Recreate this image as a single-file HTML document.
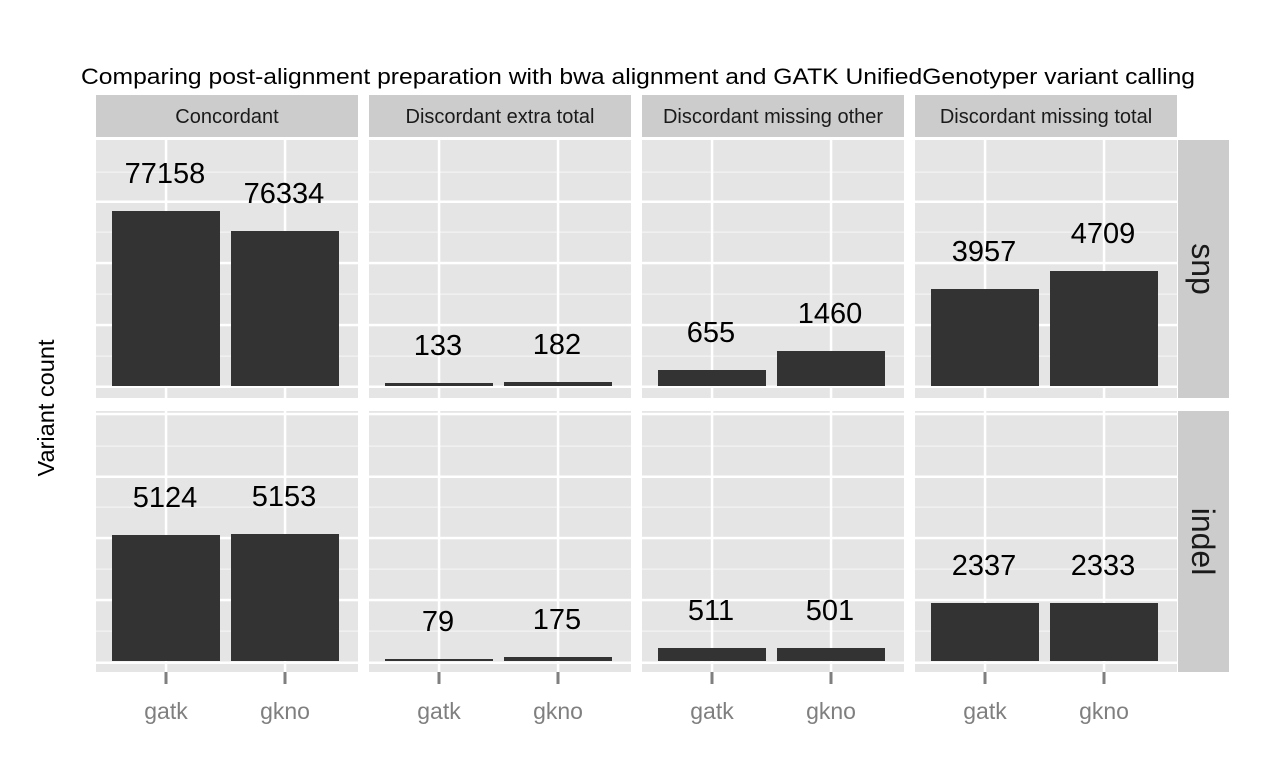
<!DOCTYPE html>
<html><head><meta charset="utf-8"><style>body{margin:0;background:#fff}svg{display:block}</style></head><body>
<svg width="1280" height="768" xmlns="http://www.w3.org/2000/svg" font-family="Liberation Sans, sans-serif">
<rect width="1280" height="768" fill="#fff"/>
<text x="638" y="84" font-size="22" text-anchor="middle" textLength="1114" lengthAdjust="spacingAndGlyphs">Comparing post-alignment preparation with bwa alignment and GATK UnifiedGenotyper variant calling</text>
<text transform="translate(54,408) rotate(-90)" font-size="23" text-anchor="middle" textLength="137" lengthAdjust="spacingAndGlyphs">Variant count</text>
<script>
const s=document.querySelector('svg');const NS='http://www.w3.org/2000/svg';
function el(t,a,txt){const e=document.createElementNS(NS,t);for(const k in a)e.setAttribute(k,a[k]);if(txt!==undefined)e.textContent=txt;s.appendChild(e);return e;}
const xs=[96,369,642,915],W=262;
const strips=["Concordant","Discordant extra total","Discordant missing other","Discordant missing total"];
const rows=[{y0:140,y1:398,major:[201.7,263,325,386.7],minor:[172,232,294,356],base:386},
            {y0:411,y1:672,major:[414,476.7,538,600,662.7],minor:[446,507,569,631],base:661}];
const data=[
 [[77158,211],[76334,231]],[[133,383],[182,382]],[[655,370],[1460,351]],[[3957,289],[4709,271]],
 [[5124,535],[5153,534]],[[79,659],[175,657]],[[511,648],[501,648]],[[2337,603],[2333,603]]];
xs.forEach((x,i)=>{
 el('rect',{x:x,y:95,width:W,height:42,fill:'#cccccc'});
 el('text',{x:x+W/2,y:123,'font-size':20,'text-anchor':'middle',fill:'#1a1a1a'},strips[i]);
 rows.forEach((r,j)=>{
  el('rect',{x:x,y:r.y0,width:W,height:r.y1-r.y0,fill:'#e5e5e5'});
  r.minor.forEach(y=>el('rect',{x:x,y:y-0.5,width:W,height:1.3,fill:'#f2f2f2'}));
  r.major.forEach(y=>el('rect',{x:x,y:y-1.2,width:W,height:2.5,fill:'#fff'}));
  [x+70,x+189].forEach(cx=>el('rect',{x:cx-1.2,y:r.y0,width:2.5,height:r.y1-r.y0,fill:'#fff'}));
  data[j*4+i].forEach((d,k)=>{
   const cx=x+70+k*119;
   el('rect',{x:cx-54,y:d[1],width:108,height:r.base-d[1],fill:'#333333'});
   el('text',{x:cx-1,y:d[1]-28,'font-size':29,'text-anchor':'middle',fill:'#000'},String(d[0]));
  });
 });
 ['gatk','gkno'].forEach((l,k)=>{const cx=x+70+k*119;
  el('rect',{x:cx-1.5,y:672,width:3,height:12,fill:'#7f7f7f'});
  el('text',{x:cx,y:719,'font-size':23,'text-anchor':'middle',fill:'#7f7f7f'},l);});
});
[['snp',140,398],['indel',411,672]].forEach(a=>{
 el('rect',{x:1178,y:a[1],width:51,height:a[2]-a[1],fill:'#cccccc'});
 el('text',{transform:`translate(1192,${(a[1]+a[2])/2}) rotate(90)`,'font-size':32,'text-anchor':'middle',fill:'#1a1a1a'},a[0]);
});
</script>
</svg>
</body></html>
